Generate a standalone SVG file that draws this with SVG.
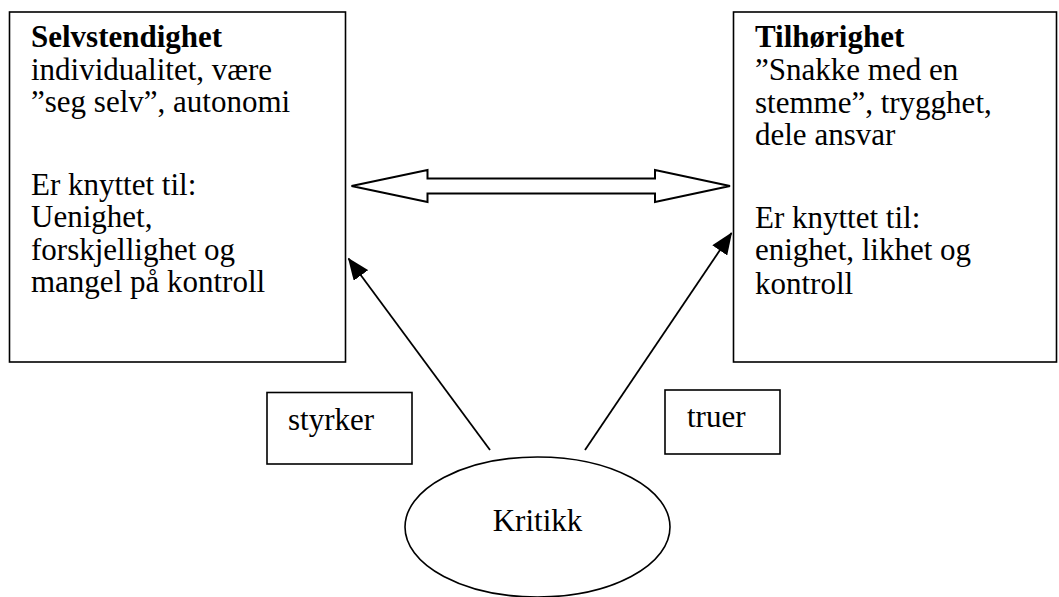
<svg xmlns="http://www.w3.org/2000/svg" width="1059" height="597" viewBox="0 0 1059 597">
<style>
.box{fill:#fff;stroke:#000;stroke-width:1.6}
.t{font-size:31px;fill:#000}
.b{font-weight:bold}
.ln{stroke:#000;stroke-width:1.8;fill:none}
</style>
<defs>
<marker id="ah" markerWidth="22" markerHeight="18" refX="21" refY="9" orient="auto" markerUnits="userSpaceOnUse">
<path d="M0,0 L22,9 L0,18 Z" fill="#000"/>
</marker>
</defs>
<rect width="1059" height="597" fill="#fff"/>
<g font-family="'Liberation Serif', 'Times New Roman', 'DejaVu Serif', serif">
<g id="selvstendighet">
<rect class="box" x="9.5" y="12" width="336" height="350"/>
<text class="t b" x="31" y="47">Selvstendighet</text>
<text class="t" x="31" y="80">individualitet, være</text>
<text class="t" x="31" y="112">”seg selv”, autonomi</text>
<text class="t" x="31" y="195">Er knyttet til:</text>
<text class="t" x="31" y="227">Uenighet,</text>
<text class="t" x="31" y="260">forskjellighet og</text>
<text class="t" x="31" y="292">mangel på kontroll</text>
</g>
<g id="tilhorighet">
<rect class="box" x="733.5" y="12" width="323" height="350"/>
<text class="t b" x="755" y="47">Tilhørighet</text>
<text class="t" x="755" y="80">”Snakke med en</text>
<text class="t" x="755" y="113">stemme”, trygghet,</text>
<text class="t" x="755" y="145">dele ansvar</text>
<text class="t" x="755" y="228">Er knyttet til:</text>
<text class="t" x="755" y="260">enighet, likhet og</text>
<text class="t" x="755" y="294">kontroll</text>
</g>
<g id="styrker">
<rect class="box" x="267" y="392.5" width="145" height="71.5"/>
<text class="t" x="288" y="430">styrker</text>
</g>
<g id="truer">
<rect class="box" x="665" y="390" width="115" height="64"/>
<text class="t" x="687" y="427">truer</text>
</g>
<g id="kritikk">
<ellipse class="box" cx="537.5" cy="527" rx="132.5" ry="70"/>
<text class="t" x="537.5" y="531" text-anchor="middle">Kritikk</text>
</g>
</g>
<g id="connectors">
<polygon points="351.5,186 427.5,170 427.5,178.5 655,178.5 655,170 730,186 655,202 655,193.5 427.5,193.5 427.5,202" fill="#fff" stroke="#000" stroke-width="2" stroke-linejoin="miter"/>
<line class="ln" x1="490" y1="450" x2="348.5" y2="258.5" marker-end="url(#ah)"/>
<line class="ln" x1="585" y1="450" x2="731.5" y2="233" marker-end="url(#ah)"/>
</g>
</svg>
